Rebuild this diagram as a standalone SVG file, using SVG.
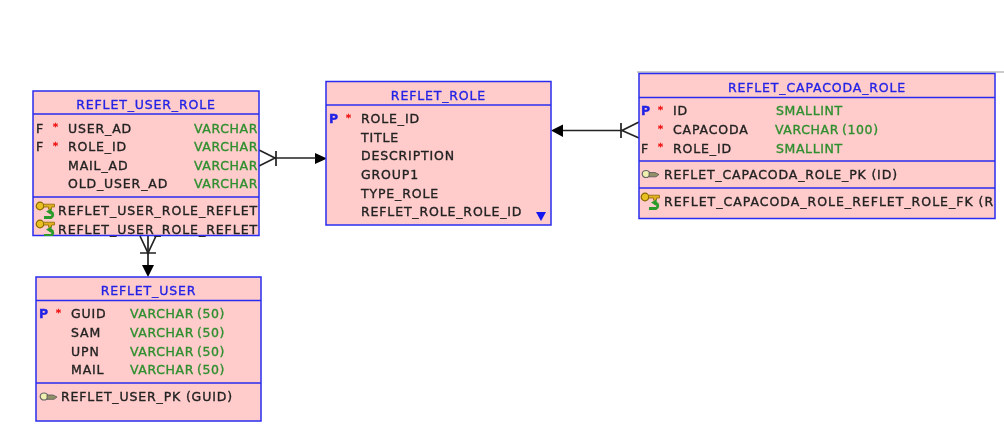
<svg xmlns="http://www.w3.org/2000/svg" xmlns:xlink="http://www.w3.org/1999/xlink" width="1004" height="434" viewBox="0 0 1004 434">
<style>
text{font-family:"DejaVu Sans","Liberation Sans",sans-serif;font-size:12.500px;fill:#222;letter-spacing:.85px;stroke:#222;stroke-width:.35px}
.box{fill:#ffcbcb;stroke:#2a2cf0;stroke-width:1.5}
.div{stroke:#2a2cf0;stroke-width:1.5;fill:none}
.t{fill:#2323e6;stroke:#2323e6;text-anchor:middle}
.p{fill:#2323e6;stroke:#2323e6;font-weight:bold}
.y{fill:#2f8f2f;stroke:#2f8f2f;letter-spacing:.6px;word-spacing:-1.500px}
.s{fill:#f01010;stroke:#f01010;font-size:9.500px;font-weight:bold}
.c{stroke:#222;stroke-width:1.700;fill:none}
.h{fill:#000;stroke:none}
.soft{filter:url(#soft)}
</style>
<defs>
<filter id="soft" x="-5%" y="-5%" width="110%" height="110%"><feGaussianBlur stdDeviation="0.45"/></filter>
<clipPath id="c1"><rect x="33" y="91" width="226" height="145"/></clipPath>
<g id="pk"><ellipse cx="4" cy="0" rx="3.800" ry="3.500" fill="#f0f0b0" stroke="#666" stroke-width="1.200"/><path d="M7 -1.500H13L17 0.500L14 2.800H7Z" fill="#8f8f68" stroke="#555" stroke-width=".8"/></g>
<g id="fk"><ellipse cx="4" cy="0" rx="3.800" ry="3.800" fill="#e8c020" stroke="#8a6a00" stroke-width="1.200"/><path d="M7.500 -1.800H18.500V1H15.500V3.200H12.500V1H7.500Z" fill="#e0b020" stroke="#8a6a00" stroke-width=".8"/><path d="M8 11.500H15A3 3 0 0 0 15 6H13" fill="none" stroke="#2a9a2a" stroke-width="2.800"/><path d="M15.500 2.500L10 5.500L15.500 9Z" fill="#2a9a2a"/></g>
</defs>
<path d="M637 72H1004" stroke="#999" stroke-width="1.200"/>
<g id="connectors" class="soft">
<path class="h" d="M327 158.500L315 153V164Z"/><path class="c" d="M259 150L275 158L259 166M276 151V166"/><path class="c" d="M275 158H316"/>
<path class="c" d="M148 236V266"/><path class="h" d="M148 277L142 265H154Z"/><path class="c" d="M140 236L148 253L156 236M140 253H156"/>
<path class="c" d="M562 130.500H622"/><path class="h" d="M551 130.500L563 124.500V137Z"/><path class="c" d="M639 122L622 130.500L639 138M621 123V138"/>
</g>
<g id="reflet_user_role" class="soft">
<rect class="box" x="33" y="91" width="226" height="144.500"/>
<path class="div" d="M33 114H259M33 197H259"/>
<text class="t" x="146" y="109">REFLET_USER_ROLE</text>
<text x="36" y="132.500">F</text><text class="s" x="53" y="130">*</text><text x="68" y="132.500">USER_AD</text><text class="y" x="194" y="132.500">VARCHAR</text>
<text x="36" y="151">F</text><text class="s" x="53" y="148.500">*</text><text x="68" y="151">ROLE_ID</text><text class="y" x="194" y="151">VARCHAR</text>
<text x="68" y="169.500">MAIL_AD</text><text class="y" x="194" y="169.500">VARCHAR</text>
<text x="68" y="188">OLD_USER_AD</text><text class="y" x="194" y="188">VARCHAR</text>
<g clip-path="url(#c1)">
<use xlink:href="#fk" href="#fk" x="36" y="206"/>
<use xlink:href="#fk" href="#fk" x="36" y="224"/>
</g>
<text x="58" y="215" textLength="200" lengthAdjust="spacing">REFLET_USER_ROLE_REFLET</text>
<text x="58" y="233.500" textLength="200" lengthAdjust="spacing">REFLET_USER_ROLE_REFLET</text>
</g>
<g id="reflet_user" class="soft">
<rect class="box" x="36" y="277" width="225" height="144"/>
<path class="div" d="M36 300.500H261M36 383H261"/>
<text class="t" x="148.500" y="294.500">REFLET_USER</text>
<text class="p" x="39" y="318">P</text><text class="s" x="56" y="315.500">*</text><text x="71" y="318">GUID</text><text class="y" x="130" y="318">VARCHAR (50)</text>
<text x="71" y="337">SAM</text><text class="y" x="130" y="337">VARCHAR (50)</text>
<text x="71" y="355.500">UPN</text><text class="y" x="130" y="355.500">VARCHAR (50)</text>
<text x="71" y="374">MAIL</text><text class="y" x="130" y="374">VARCHAR (50)</text>
<use xlink:href="#pk" href="#pk" x="40" y="396.500"/><text x="61" y="400.500">REFLET_USER_PK (GUID)</text>
</g>
<g id="reflet_role" class="soft">
<rect class="box" x="326" y="81.500" width="225" height="143.500"/>
<path class="div" d="M326 105H551"/>
<text class="t" x="438.500" y="99.500">REFLET_ROLE</text>
<text class="p" x="329" y="123">P</text><text class="s" x="346" y="120.500">*</text><text x="361" y="123">ROLE_ID</text>
<text x="361" y="141.500">TITLE</text><text x="361" y="160">DESCRIPTION</text><text x="361" y="178.500">GROUP1</text><text x="361" y="197.500">TYPE_ROLE</text><text x="361" y="216">REFLET_ROLE_ROLE_ID</text>
<path d="M536 212H546L541 221Z" fill="#1414f0"/>
</g>
<g id="reflet_capacoda_role" class="soft">
<rect class="box" x="639" y="73.500" width="356" height="145"/>
<path class="div" d="M639 97.500H995M639 161H995M639 188H995"/>
<text class="t" x="817" y="91.500">REFLET_CAPACODA_ROLE</text>
<text class="p" x="641" y="115">P</text><text class="s" x="658" y="112.500">*</text><text x="673" y="115">ID</text><text class="y" x="776" y="115">SMALLINT</text>
<text class="s" x="658" y="131.500">*</text><text x="673" y="134">CAPACODA</text><text class="y" x="775" y="134">VARCHAR (100)</text>
<text x="641" y="152.500">F</text><text class="s" x="658" y="150">*</text><text x="673" y="152.500">ROLE_ID</text><text class="y" x="776" y="152.500">SMALLINT</text>
<use xlink:href="#pk" href="#pk" x="642" y="174"/><text x="664" y="178.500">REFLET_CAPACODA_ROLE_PK (ID)</text>
<use xlink:href="#fk" href="#fk" x="641" y="197"/><text x="664" y="205.500" textLength="330" lengthAdjust="spacing">REFLET_CAPACODA_ROLE_REFLET_ROLE_FK (R</text>
</g>
</svg>
